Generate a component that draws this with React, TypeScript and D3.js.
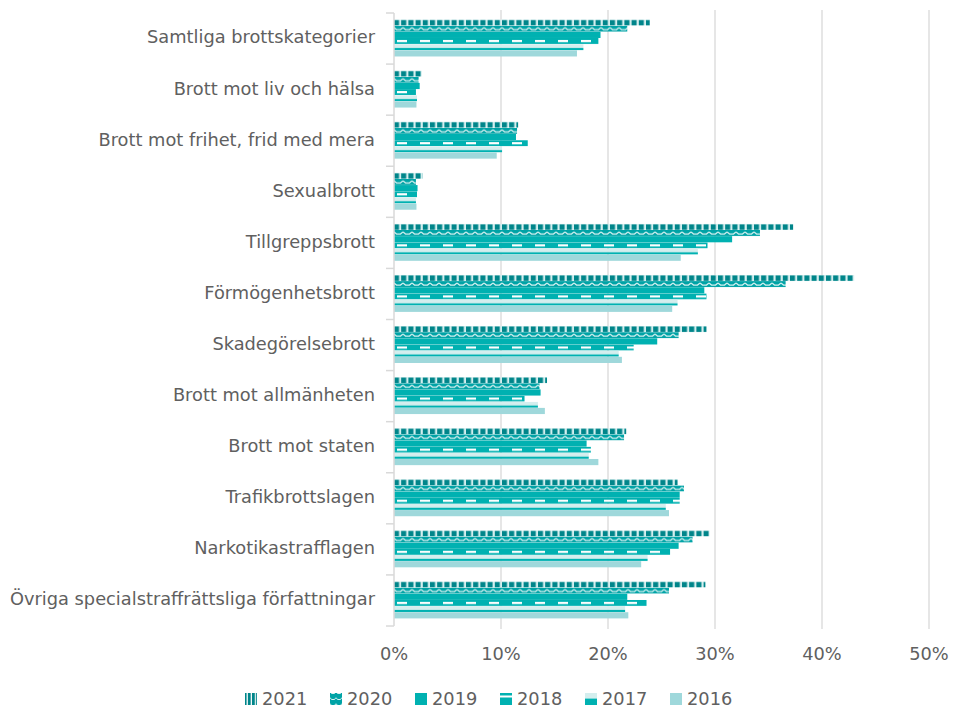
import React from "react";
import * as d3 from "d3";

const categories = [
  "Samtliga brottskategorier",
  "Brott mot liv och hälsa",
  "Brott mot frihet, frid med mera",
  "Sexualbrott",
  "Tillgreppsbrott",
  "Förmögenhetsbrott",
  "Skadegörelsebrott",
  "Brott mot allmänheten",
  "Brott mot staten",
  "Trafikbrottslagen",
  "Narkotikastrafflagen",
  "Övriga specialstraffrättsliga författningar",
];

const years = ["2021", "2020", "2019", "2018", "2017", "2016"];

const v2021 = [23.9, 2.6, 11.6, 2.7, 37.3, 43.0, 29.2, 14.3, 21.7, 26.5, 29.5, 29.1];
const v2020 = [21.8, 2.3, 11.5, 2.05, 34.2, 36.6, 26.6, 13.6, 21.5, 27.1, 27.9, 25.7];
const v2019 = [19.3, 2.4, 11.4, 2.2, 31.6, 29.0, 24.6, 13.7, 18.0, 26.7, 26.6, 21.8];
const v2018 = [19.1, 2.05, 12.5, 2.15, 29.3, 29.2, 22.4, 12.2, 18.4, 26.7, 25.8, 23.6];
const v2017 = [17.7, 2.15, 10.1, 2.05, 28.4, 26.5, 21.0, 13.45, 18.2, 25.4, 23.7, 21.6];
const v2016 = [17.1, 2.1, 9.6, 2.1, 26.8, 26.0, 21.3, 14.1, 19.1, 25.7, 23.1, 21.9];

const xTicks = [0, 10, 20, 30, 40, 50];

const seriesValues: Record<string, number[]> = {
  "2021": v2021,
  "2020": v2020,
  "2019": v2019,
  "2018": v2018,
  "2017": v2017,
  "2016": v2016,
};

const DARK = "#00858a";
const WAVE = "#00a3a6";
const SOLID = "#00b1b1";
const LIGHT = "#d4eeee";
const PALE = "#9fd8db";
const TEXT = "#606060";
const GRID = "#d9d9d9";
const FONT = "'DejaVu Sans', sans-serif";

export default function App() {
  const width = 954;
  const height = 708;
  const x = d3.scaleLinear().domain([0, 50]).range([394, 929]);
  const y0 = d3
    .scaleBand<string>()
    .domain(categories)
    .range([13, 626])
    .paddingInner(0.2757)
    .paddingOuter(0.1378)
    .align(0.46);
  const y1 = d3.scaleBand<string>().domain(years).range([0, y0.bandwidth()]);
  const bh = y1.bandwidth();
  const step = y0.step();
  const baseY = (yr: string) => (y0(categories[0]) as number) + (y1(yr) as number);

  const boundaries = d3.range(categories.length + 1).map((i) => 13 + i * step);

  const fillFor = (yr: string) => {
    if (yr === "2019") return SOLID;
    if (yr === "2016") return PALE;
    return `url(#pat${yr})`;
  };

  const legendX = d3.scalePoint<string>().domain(years).range([245, 670]);

  return (
    <svg width={width} height={height} style={{ position: "absolute", left: 0, top: 0 }}>
      <defs>
        <pattern id="pat2021" patternUnits="userSpaceOnUse" x={394} y={baseY("2021")} width={7.2} height={step}>
          <rect x={0} y={0} width={7.2} height={bh} fill={LIGHT} />
          <rect x={0} y={0.5} width={5} height={bh - 0.5} fill={DARK} />
        </pattern>
        <pattern id="pat2020" patternUnits="userSpaceOnUse" x={394} y={baseY("2020")} width={9} height={step}>
          <rect x={0} y={0} width={9} height={bh} fill={WAVE} />
          <path
            d={`M0,${bh * 0.3} L2.5,${bh * 0.65} L6.5,${bh * 0.65} L9,${bh * 0.3}`}
            fill="none"
            stroke="#d8f1f1"
            strokeWidth={1.2}
          />
        </pattern>
        <pattern id="pat2018" patternUnits="userSpaceOnUse" x={397} y={baseY("2018")} width={23} height={step}>
          <rect x={0} y={0} width={23} height={bh} fill={SOLID} />
          <rect x={0} y={bh / 2 - 1.1} width={10} height={2.2} fill="#ffffff" />
        </pattern>
        <pattern id="pat2017" patternUnits="userSpaceOnUse" x={394} y={baseY("2017")} width={10} height={step}>
          <rect x={0} y={0} width={10} height={bh * 0.62} fill={LIGHT} />
          <rect x={0} y={bh * 0.62} width={10} height={bh * 0.38} fill={SOLID} />
        </pattern>
        <pattern id="legend2021" patternUnits="userSpaceOnUse" x={0} y={0} width={4.2} height={20}>
          <rect x={0} y={0} width={4.2} height={20} fill="#ffffff" />
          <rect x={0} y={0} width={3} height={20} fill={DARK} />
        </pattern>
        <pattern id="legend2020" patternUnits="userSpaceOnUse" x={0} y={0} width={6} height={6}>
          <rect x={0} y={0} width={6} height={6} fill={WAVE} />
          <path d="M0,1.5 L1.5,3.5 L4.5,3.5 L6,1.5" fill="none" stroke="#d8f1f1" strokeWidth={1} />
        </pattern>
      </defs>

      {/* gridlines */}
      {xTicks.slice(1).map((t) => (
        <line key={t} x1={x(t)} x2={x(t)} y1={10} y2={629} stroke={GRID} strokeWidth={1.3} />
      ))}

      {/* bars */}
      {categories.map((c, i) => (
        <g key={c}>
          {years.map((yr) => (
            <rect
              key={yr}
              x={x(0)}
              y={(y0(c) as number) + (y1(yr) as number)}
              width={x(seriesValues[yr][i]) - x(0)}
              height={bh}
              fill={fillFor(yr)}
            />
          ))}
        </g>
      ))}

      {/* y axis */}
      <line x1={x(0)} x2={x(0)} y1={13} y2={626} stroke={GRID} strokeWidth={1.5} />
      {boundaries.map((b, i) => (
        <line key={i} x1={386} x2={x(0)} y1={b} y2={b} stroke={GRID} strokeWidth={1.5} />
      ))}

      {/* category labels */}
      {categories.map((c) => (
        <text
          key={c}
          x={375}
          y={(y0(c) as number) + y0.bandwidth() / 2 - 1}
          textAnchor="end"
          dominantBaseline="central"
          fontFamily={FONT}
          fontSize={17.8}
          fill={TEXT}
        >
          {c}
        </text>
      ))}

      {/* x tick labels */}
      {xTicks.map((t) => (
        <text
          key={t}
          x={x(t)}
          y={660}
          textAnchor="middle"
          fontFamily={FONT}
          fontSize={17.8}
          fill={TEXT}
        >
          {`${t}%`}
        </text>
      ))}

      {/* legend */}
      {years.map((yr) => {
        const lx = legendX(yr) as number;
        let icon: React.ReactNode;
        if (yr === "2021") icon = <rect x={lx} y={693} width={12} height={12} fill="url(#legend2021)" />;
        else if (yr === "2020") icon = <rect x={lx} y={693} width={12} height={12} fill="url(#legend2020)" />;
        else if (yr === "2019") icon = <rect x={lx} y={693} width={12} height={12} fill={SOLID} />;
        else if (yr === "2018")
          icon = (
            <g>
              <rect x={lx} y={693} width={12} height={12} fill={SOLID} />
              <rect x={lx} y={695.5} width={12} height={2} fill="#ffffff" />
            </g>
          );
        else if (yr === "2017")
          icon = (
            <g>
              <rect x={lx} y={693} width={12} height={5} fill={LIGHT} />
              <rect x={lx} y={698.5} width={12} height={6.5} fill={SOLID} />
            </g>
          );
        else icon = <rect x={lx} y={693} width={12} height={12} fill={PALE} />;
        return (
          <g key={yr}>
            {icon}
            <text x={lx + 17} y={705} fontFamily={FONT} fontSize={17.8} fill={TEXT}>
              {yr}
            </text>
          </g>
        );
      })}
    </svg>
  );
}
